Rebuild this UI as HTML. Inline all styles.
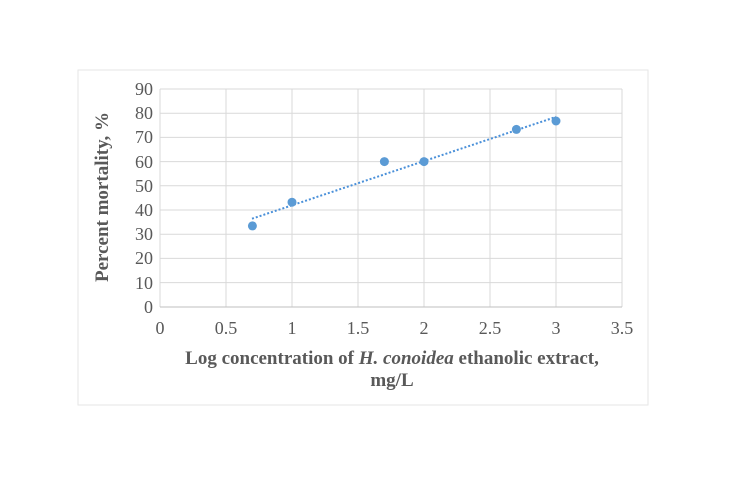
<!DOCTYPE html>
<html><head><style>
body{margin:0;background:#fff;}
svg text{font-family:"Liberation Serif",serif;}
</style></head><body>
<svg width="750" height="499" xmlns="http://www.w3.org/2000/svg">
<rect x="78" y="70" width="570" height="335" fill="#fff" stroke="#e6e6e6" stroke-width="1"/>
<g stroke="#d9d9d9" stroke-width="1">
<line x1="160" y1="89" x2="622" y2="89"/><line x1="160" y1="113.2" x2="622" y2="113.2"/>
<line x1="160" y1="137.4" x2="622" y2="137.4"/><line x1="160" y1="161.6" x2="622" y2="161.6"/>
<line x1="160" y1="185.8" x2="622" y2="185.8"/><line x1="160" y1="210" x2="622" y2="210"/>
<line x1="160" y1="234.2" x2="622" y2="234.2"/><line x1="160" y1="258.4" x2="622" y2="258.4"/>
<line x1="160" y1="282.6" x2="622" y2="282.6"/>
<line x1="160" y1="89" x2="160" y2="307"/><line x1="226" y1="89" x2="226" y2="307"/>
<line x1="292" y1="89" x2="292" y2="307"/><line x1="358" y1="89" x2="358" y2="307"/>
<line x1="424" y1="89" x2="424" y2="307"/><line x1="490" y1="89" x2="490" y2="307"/>
<line x1="556" y1="89" x2="556" y2="307"/><line x1="622" y1="89" x2="622" y2="307"/>
</g>
<line x1="160" y1="307" x2="622" y2="307" stroke="#bfbfbf"/>
<g fill="#595959" font-size="18" text-anchor="end">
<text x="153" y="95">90</text><text x="153" y="119">80</text><text x="153" y="143">70</text>
<text x="153" y="168">60</text><text x="153" y="192">50</text><text x="153" y="216">40</text>
<text x="153" y="240">30</text><text x="153" y="264">20</text><text x="153" y="289">10</text>
<text x="153" y="313">0</text>
</g>
<g fill="#595959" font-size="18" text-anchor="middle">
<text x="160" y="334">0</text><text x="226" y="334">0.5</text><text x="292" y="334">1</text>
<text x="358" y="334">1.5</text><text x="424" y="334">2</text><text x="490" y="334">2.5</text>
<text x="556" y="334">3</text><text x="622" y="334">3.5</text>
</g>
<line x1="252" y1="218.7" x2="556" y2="116.9" stroke="#4a90d9" stroke-width="2" stroke-dasharray="2,2"/>
<g fill="#5b9bd5">
<circle cx="252.4" cy="225.9" r="4.5"/><circle cx="292" cy="202.2" r="4.5"/>
<circle cx="384.4" cy="161.6" r="4.5"/><circle cx="424" cy="161.6" r="4.5"/>
<circle cx="516.4" cy="129.4" r="4.5"/><circle cx="556" cy="121" r="4.5"/>
</g>
<g fill="#595959" font-size="19" font-weight="bold" text-anchor="middle">
<text x="392" y="364">Log concentration of <tspan font-style="italic">H. conoidea</tspan> ethanolic extract,</text>
<text x="392" y="386">mg/L</text>
<text transform="translate(108,197) rotate(-90)">Percent mortality, %</text>
</g>
</svg>
</body></html>
